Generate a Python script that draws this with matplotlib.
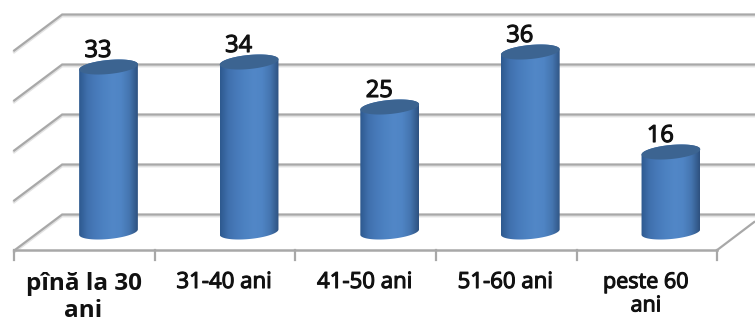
import numpy as np
import matplotlib
matplotlib.use("Agg")
import matplotlib.pyplot as plt
import matplotlib.patheffects as pe
from matplotlib.patches import Polygon

categories = ["pînă la 30\nani", "31-40 ani", "41-50 ani", "51-60 ani", "peste 60\nani"]
values = [33, 34, 25, 36, 16]
grid_values = [0, 10, 20, 30, 40]
label_sizes = [17.5, 16, 16, 16, 15.5]
label_weights = ["bold", "normal", "normal", "normal", "normal"]

# pixels per unit on each axis, the 3D look is done with pixel offsets
px_x = 140.6
px_y = 5.0

fig = plt.figure(figsize=(7.55, 3.24), dpi=100)
ax = fig.add_axes([0, 0, 1, 1])
ax.axis("off")
xlim = (-108.5 / px_x, (755 - 108.5) / px_x)
ylim = ((232 - 324) / px_y, 232 / px_y)


def ox(px):
    return px / px_x


def oy(px):
    return px / px_y


# depth of the floor in pixels
back_dy = 17.5
front_dy = -18
left = -0.5 - ox(24)
right = 4.5 - ox(24)
wall_left = left + ox(48)

grid_col = "#a8a8a8"
shadow_col = "#e2e2e2"
for g in grid_values:
    y = g + oy(back_dy)
    side_y = y - oy(36)
    for col, lw, shift in [(shadow_col, 2.0, -0.3), (grid_col, 1.6, 0)]:
        ax.plot([left, wall_left, xlim[1]], [side_y + shift, y + shift, y + shift],
                color=col, lw=lw, zorder=1, solid_joinstyle="miter")

# floor front edge, ticks and the right side edge
floor_y = oy(front_dy)
ax.plot([left, right], [floor_y, floor_y], color=grid_col, lw=1.8, zorder=1)
ax.plot([right, right + ox(37)], [floor_y, floor_y + oy(28)], color=grid_col, lw=1.6, zorder=1)
for i in range(len(categories) + 1):
    xt = left + i
    ax.plot([xt, xt], [floor_y, floor_y - oy(10)], color=grid_col, lw=1.6, zorder=1)

a = 29.5
b = 7.0
tilt = np.deg2rad(5.5)


def arc(xc, yc, t):
    # tilted ellipse around a bar end
    dx = a * np.cos(t)
    dy = b * np.sin(t)
    return (xc + ox(dx * np.cos(tilt) - dy * np.sin(tilt)),
            yc + oy(dx * np.sin(tilt) + dy * np.cos(tilt)))


shade = np.array([
    [0.18, 0.35, 0.56], [0.25, 0.44, 0.68], [0.28, 0.48, 0.73], [0.30, 0.51, 0.76],
    [0.32, 0.53, 0.78], [0.31, 0.52, 0.77], [0.27, 0.46, 0.69], [0.18, 0.32, 0.50],
])
pos = np.linspace(0, 1, len(shade))
grad = np.stack([np.interp(np.linspace(0, 1, 120), pos, shade[:, c]) for c in range(3)], axis=-1)[None, :, :]

thick = [pe.withStroke(linewidth=0.8, foreground="#111111")]

for i, v in enumerate(values):
    t_low = np.linspace(np.pi, 2 * np.pi, 60)
    t_up = np.linspace(0, np.pi, 60)
    bx, by = arc(i, 0, t_low)
    tx, ty = arc(i, v, t_up)
    body = Polygon(np.column_stack([np.r_[bx, tx], np.r_[by, ty]]), closed=True,
                   transform=ax.transData, facecolor="none", edgecolor="none")
    ax.add_patch(body)
    im = ax.imshow(grad, extent=(i - ox(a), i + ox(a), -3, v + 3), aspect="auto",
                   interpolation="bilinear", zorder=3)
    im.set_clip_path(body)

    t_all = np.linspace(0, 2 * np.pi, 120)
    cx, cy = arc(i, v, t_all)
    ax.fill(cx, cy, color="#3c6491", zorder=4, lw=0)

    ax.text(i - ox(10.5), v + oy(16), str(v), ha="center", va="center",
            fontsize=17, family="Open Sans", color="#111111", zorder=5, path_effects=thick)

for i, name in enumerate(categories):
    ax.text(i - ox(25), oy(232 - 272), name, ha="center", va="top", linespacing=1.15,
            fontsize=label_sizes[i], family="Open Sans", weight=label_weights[i], color="#111111",
            path_effects=thick if label_weights[i] == "normal" else None)

ax.set_xlim(xlim)
ax.set_ylim(ylim)
fig.savefig("out.png", dpi=100)
